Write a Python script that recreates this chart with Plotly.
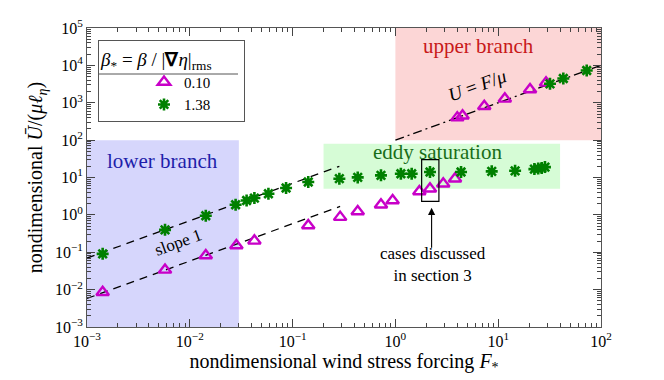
import math
import plotly.graph_objects as go

# ---- data ----
F_tri = [1.42e-3, 5.74e-3, 0.0143, 0.0284, 0.0425, 0.142, 0.29, 0.43, 0.724, 0.94,
         1.71, 2.17, 2.92, 3.80, 4.0, 4.5, 7.32, 11.6, 20.4, 29.2]
U_tri = [0.0085, 0.0337, 0.0816, 0.151, 0.202, 0.52, 0.87, 1.23, 1.87, 2.43,
         4.24, 5.0, 6.8, 9.3, 400, 450, 805, 1272, 2260, 3412]

F_star = [1.42e-3, 5.74e-3, 0.0143, 0.0279, 0.0357, 0.0425, 0.0582, 0.0864, 0.142,
          0.285, 0.43, 0.724, 1.13, 1.44, 2.17, 4.35, 8.65, 14.6, 22.5, 24.5, 26.5, 28.5,
          31.9, 43.0, 72.6]
U_star = [0.0905, 0.398, 0.946, 1.87, 2.43, 2.82, 3.68, 5.23, 7.57,
          9.3, 10.07, 11.4, 12.6, 12.6, 14.0, 14.0, 14.6, 15.1, 16.8, 17.4, 18.0, 19.0,
          3213, 4454, 7300]

# slope-1 reference lines  U = c * F
lower_line_F = [1e-3, 0.29]
lower_line_c = 5.8
upper_line_F = [1e-3, 0.285]
upper_line_c = 70
free_line_F = [1.0, 100.0]      # U = F / mu
free_line_c = 100

legend_labels = ["0.10", "1.38"]

x_exponents = [-3, -2, -1, 0, 1, 2]
y_exponents = [-3, -2, -1, 0, 1, 2, 3, 4, 5]

# regions (F range, U range)
lower_region = ([1e-3, 0.03], [1e-3, 1e2])
eddy_region = ([0.2, 40], [5, 80])
upper_region = ([1.0, 1e2], [1e2, 1e5])
box_cases = ([1.8, 2.65], [2.3, 30])

FONT = "Liberation Serif"
MAG = "rgb(200,0,200)"
GRN = "rgb(0,128,0)"


def pw(e):
    return "10<sup>" + (str(e) if e >= 0 else "\u2212" + str(-e)) + "</sup>"


def px(v):   # horizontal pixel offset in plot area -> paper
    return v / 514


def py(v):   # window pixel row -> paper (plot area rows 28..327)
    return (327 - v) / 299


fig = go.Figure()

for (fr, c) in [(lower_line_F, lower_line_c), (upper_line_F, upper_line_c)]:
    fig.add_trace(go.Scatter(x=fr, y=[c * f for f in fr], mode="lines",
                             line=dict(color="black", width=1.3, dash="8px,6px"),
                             showlegend=False, hoverinfo="skip"))
fig.add_trace(go.Scatter(x=free_line_F, y=[free_line_c * f for f in free_line_F], mode="lines",
                         line=dict(color="black", width=1.3, dash="9px,4px,2px,4px"),
                         showlegend=False, hoverinfo="skip"))

fig.add_trace(go.Scatter(x=F_tri, y=U_tri, mode="markers", name=legend_labels[0],
                         marker=dict(symbol="triangle-up-open", size=11, color=MAG,
                                     line=dict(width=2.4, color=MAG))))
fig.add_trace(go.Scatter(x=F_star, y=U_star, mode="markers", name=legend_labels[1],
                         marker=dict(symbol="asterisk-open", size=10, color=GRN,
                                     line=dict(width=2.6, color=GRN))))

shapes = []
for (xr, yr), col in [(lower_region, "rgb(214,214,252)"),
                      (eddy_region, "rgb(214,252,214)"),
                      (upper_region, "rgb(252,214,214)")]:
    shapes.append(dict(type="rect", xref="x", yref="y", x0=xr[0], x1=xr[1], y0=yr[0], y1=yr[1],
                       fillcolor=col, line=dict(width=0), layer="below"))
shapes.append(dict(type="rect", xref="x", yref="y", x0=box_cases[0][0], x1=box_cases[0][1],
                   y0=box_cases[1][0], y1=box_cases[1][1], line=dict(color="black", width=1.2)))
# legend background and title separator
shapes.append(dict(type="rect", xref="paper", yref="paper", x0=px(12), x1=px(150),
                   y0=py(117), y1=py(41), fillcolor="white", line=dict(width=0), layer="above"))
shapes.append(dict(type="line", xref="paper", yref="paper", x0=px(11), x1=px(151),
                   y0=py(74), y1=py(74), line=dict(color="#555", width=1), layer="above"))

L = math.log10
annotations = [
    dict(x=L(0.0054), y=L(28), xref="x", yref="y", text="lower branch", showarrow=False,
         font=dict(family=FONT, size=21, color="rgb(30,30,170)")),
    dict(x=L(2.54), y=L(49), xref="x", yref="y", text="eddy saturation", showarrow=False,
         font=dict(family=FONT, size=21, color="rgb(25,110,25)")),
    dict(x=L(6.5), y=L(34000), xref="x", yref="y", text="upper branch", showarrow=False,
         font=dict(family=FONT, size=21, color="rgb(200,25,25)")),
    dict(x=L(0.0077), y=L(0.18), xref="x", yref="y", text="slope 1", showarrow=False,
         textangle=-20, font=dict(family=FONT, size=17, color="black")),
    dict(x=L(6.2), y=L(2900), xref="x", yref="y", text="<i>U</i> = <i>F</i>/<i>μ</i>",
         showarrow=False, textangle=-20, font=dict(family=FONT, size=19, color="black")),
    dict(x=L(2.25), y=L(1.55), xref="x", yref="y", ax=L(2.25), ay=L(0.12), axref="x", ayref="y",
         text="", showarrow=True, arrowhead=2, arrowsize=1.3, arrowwidth=1.1, arrowcolor="black"),
    dict(x=L(2.32), y=L(0.046), xref="x", yref="y", text="cases discussed<br>in section 3",
         showarrow=False, font=dict(family=FONT, size=17, color="black")),
]

axis_common = dict(type="log", showgrid=False, zeroline=False, automargin=False,
                   ticks="inside", ticklen=8, tickwidth=1, tickcolor="#444",
                   showline=True, linecolor="#555", linewidth=1, mirror="ticks",
                   tickfont=dict(family=FONT, size=16, color="black"),
                   minor=dict(ticks="inside", ticklen=4, dtick="D1", tickcolor="#444",
                              showgrid=False))

# page body has an 8px margin, so the figure is 8px smaller than the window
fig.update_layout(
    width=656, height=372,
    margin=dict(l=79, r=63, t=20, b=53),
    plot_bgcolor="white", paper_bgcolor="white",
    font=dict(family=FONT, color="black"),
    xaxis=dict(axis_common, range=[-3, 2],
               tickvals=[10 ** e for e in x_exponents], ticktext=[pw(e) for e in x_exponents],
               title=dict(text="nondimensional wind stress forcing <i>F</i><sub>*</sub>",
                          font=dict(family=FONT, size=20), standoff=4)),
    yaxis=dict(axis_common, range=[-3, 5],
               tickvals=[10 ** e for e in y_exponents], ticktext=[pw(e) for e in y_exponents],
               title=dict(text="nondimensional <i>Ū</i>/(<i>μℓ</i><sub><i>η</i></sub>)",
                          font=dict(family=FONT, size=20), standoff=6)),
    showlegend=True,
    legend=dict(x=px(11), y=py(40), xanchor="left", yanchor="top",
                bgcolor="rgba(0,0,0,0)", bordercolor="#555", borderwidth=1,
                title=dict(text="<i>β</i><sub>*</sub> = <i>β</i> / |<b>∇</b><i>η</i>|<sub>rms</sub>"
                                + "\u00a0" * 6,
                           font=dict(family=FONT, size=19)),
                font=dict(family=FONT, size=15), indentation=45, tracegroupgap=0),
    shapes=shapes, annotations=annotations,
)

fig.write_html("out.html")
